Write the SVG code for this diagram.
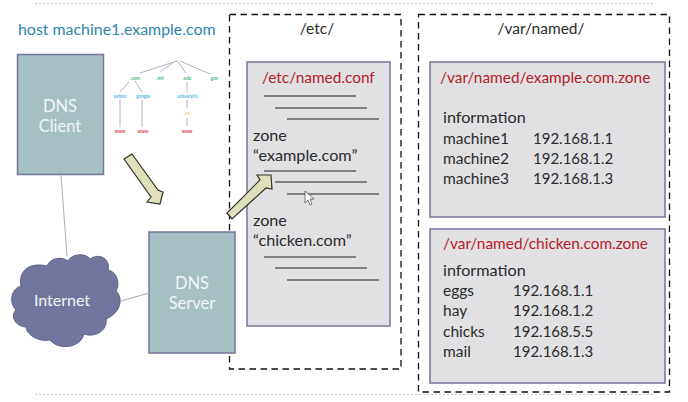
<svg xmlns="http://www.w3.org/2000/svg" width="688" height="402" viewBox="0 0 688 402">
<style>
text{font-family:"Lato","Open Sans","Liberation Sans",sans-serif;font-size:15.5px;fill:#2b2b2b}
.box{fill:#a5bfc2;stroke:#74769a;stroke-width:1.5}
.file{fill:#e1e1e3;stroke:#74769a;stroke-width:1.5}
.dash{fill:none;stroke:#111;stroke-width:1.3;stroke-dasharray:6.5 4.5}
.w{fill:#f2f6f6;font-size:16.5px;text-anchor:middle}
.red{fill:#b5202c;font-size:15.4px}
.big{font-size:16.2px}
.ip{font-size:15px}
.rule{stroke:#222;stroke-width:1.2}
.dot{stroke:#c9c9cf;stroke-width:1;stroke-dasharray:2 2;fill:none}
.link{stroke:#a9a9c3;stroke-width:1;fill:none}
.tree{stroke:#b0b3c6;stroke-width:1;fill:none}
.t{font-size:4.6px;text-anchor:middle;font-weight:700}
.arrow{fill:#dfdfba;stroke:#2f3428;stroke-width:1.2;stroke-linejoin:miter}
</style>
<rect width="688" height="402" fill="#fff"/>
<path class="dot" d="M35 3.500H655M35 394.500H655"/>
<g id="host-label"><text x="18" y="35" style="fill:#2e84ad;font-size:15.900px">host machine1.example.com</text></g>
<g id="dns-client"><rect class="box" x="17.500" y="54.500" width="86" height="120"/><text class="w" x="60" y="112">DNS</text><text class="w" x="60" y="132">Client</text></g>
<g id="dns-tree">
<path class="tree" d="M177 61L140 73M174 62L160 72M178 62L186 73M180 61L210 74M129 82L120 92M135 81L142 92M120 99V127M142 99V127M187 82V92M187 100V108M187 118V126"/>
<text class="t" x="177" y="62" style="fill:#444">.</text>
<text class="t" x="135" y="80" style="fill:#4cb37a">.com</text><text class="t" x="160" y="80" style="fill:#4cb37a">.mil</text><text class="t" x="187" y="80" style="fill:#4cb37a">.edu</text><text class="t" x="214" y="80" style="fill:#4cb37a">.gov</text>
<text class="t" x="120" y="98" style="fill:#55b4ea">yahoo</text><text class="t" x="143" y="98" style="fill:#55b4ea">google</text><text class="t" x="187" y="98" style="fill:#55b4ea">.university</text>
<text class="t" x="187" y="115" style="fill:#f0c560">.cs</text>
<text class="t" x="120" y="133" style="fill:#e5404f">www</text><text class="t" x="143" y="133" style="fill:#e5404f">www</text><text class="t" x="187" y="133" style="fill:#e5404f">www</text>
</g>
<g id="internet"><path d="M21 286C18 270 30 262 47 266C50 258 62 256 68 261C72 253 86 253 90 259C100 252 111 260 108 270C118 272 120 285 116 291C123 297 122 312 106 319C108 331 94 338 84 334C80 349 58 350 50 340C40 342 27 336 26 327C13 326 11 314 16 310C8 302 12 288 21 286Z" fill="#72769f" stroke="#5e6288" stroke-width="1"/><text class="w" x="62" y="306" style="font-size:16px">Internet</text></g>
<g id="etc-dir"><rect class="dash" x="229.500" y="14.500" width="171.500" height="354.500"/><text x="317" y="34" text-anchor="middle">/etc/</text></g>
<g id="dns-server"><rect class="box" x="149" y="232" width="86" height="121"/><text class="w" x="192" y="289">DNS</text><text class="w" x="192" y="309">Server</text></g>
<g id="named-conf"><rect class="file" x="247" y="62" width="143" height="264"/>
<text class="red" x="262" y="83">/etc/named.conf</text>
<path class="rule" d="M264 96H356M275 108H367M287 119H379M264 171H356M275 182H367M287 194H379M264 257H356M275 268H367M287 280H379"/>
<text class="big" x="253" y="141">zone</text><text class="big" x="253" y="161">“example.com”</text>
<text class="big" x="253" y="226">zone</text><text class="big" x="253" y="246">“chicken.com”</text>
<path d="M305 191V203L308 200L310 205L312 204L310 199L314 199Z" fill="#fff" stroke="#444" stroke-width=".7"/>
</g>
<g id="var-dir"><rect class="dash" x="418.500" y="14.500" width="251" height="377.500"/><text x="541" y="34" text-anchor="middle">/var/named/</text></g>
<g id="example-zone"><rect class="file" x="430" y="62" width="235" height="155"/>
<text class="red" x="440" y="83">/var/named/example.com.zone</text>
<text class="big" x="443" y="123">information</text>
<text x="443" y="144">machine1</text><text class="ip" x="533" y="144">192.168.1.1</text>
<text x="443" y="164">machine2</text><text class="ip" x="533" y="164">192.168.1.2</text>
<text x="443" y="184">machine3</text><text class="ip" x="533" y="184">192.168.1.3</text>
</g>
<g id="chicken-zone"><rect class="file" x="430" y="229" width="235" height="154"/>
<text class="red" x="443" y="249">/var/named/chicken.com.zone</text>
<text class="big" x="443" y="276">information</text>
<text x="443" y="296">eggs</text><text class="ip" x="513" y="296">192.168.1.1</text>
<text x="443" y="316">hay</text><text class="ip" x="513" y="316">192.168.1.2</text>
<text x="443" y="337">chicks</text><text class="ip" x="513" y="337">192.168.5.5</text>
<text x="443" y="357">mail</text><text class="ip" x="513" y="357">192.168.1.3</text>
</g>
<g id="connectors">
<path class="link" d="M61 175L67 256M121 301L149 293"/>
<path class="arrow" d="M124 159L132 154L158 190L163 192L160 204L147 202L151 197Z"/>
<path class="arrow" d="M227 213L232 219L266 188L272 189L271 175L257 175L260 180Z"/>
</g>
</svg>
